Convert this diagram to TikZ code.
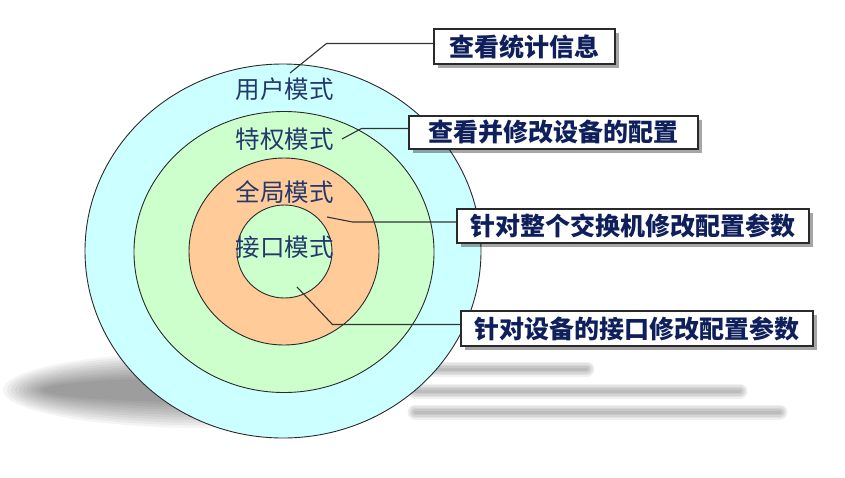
\documentclass[tikz,border=0pt]{standalone}
\usepackage{fontspec}
\usepackage{xcolor}
\usepackage{tikz}
\usetikzlibrary{shapes.geometric,shadows}
\newfontfamily\cjk{Noto Sans CJK SC}
\definecolor{ringcyan}{HTML}{CCFFFF}
\definecolor{ringgreen}{HTML}{CCFFCC}
\definecolor{ringorange}{HTML}{FFCC99}
\definecolor{labelnavy}{HTML}{24386E}
\definecolor{boxnavy}{HTML}{0E1F5B}
\definecolor{edge}{HTML}{2A2A2A}
\definecolor{leadgray}{HTML}{333333}
\tikzset{
  ring/.style={ellipse, draw=edge, line width=0.9pt, inner sep=0pt},
  mode/.style={font=\cjk\fontsize{24.5}{28}\selectfont, text=labelnavy, inner sep=1pt},
  infobox/.style={
    draw=edge, line width=1.1pt, fill=white, inner sep=0pt,
    font=\cjk\bfseries\fontsize{25}{28}\selectfont, text=boxnavy,
    drop shadow={shadow xshift=3.5pt, shadow yshift=-3.5pt, fill=black, opacity=0.35}
  },
  leader/.style={draw=leadgray, line width=1.1pt},
  streak/.style={draw=black, line cap=round, opacity=0.06}
}

\begin{document}
\begin{tikzpicture}[x=1pt, y=-1pt]
  \useasboundingbox (0,0) rectangle (845,477);

  % Floor shadow under the rings
  \foreach \i in {0,...,10}
    \fill[black, opacity=0.045] (205,390) ellipse ({202-\i*4} and {38-\i*2.6});
  \foreach \w in {15,12,9,6,3}{
    \draw[streak, line width=\w] (415,369) -- (587,369);
    \draw[streak, line width=\w] (415,391) -- (740,391);
    \draw[streak, line width=\w] (415,412) -- (780,412);
  }

  % Rings, outside in
  \node[ring, fill=ringcyan, minimum width=396, minimum height=374] (user) at (283,251) {};
  \node[ring, fill=ringgreen, minimum width=300, minimum height=281] (priv) at (284,252) {};
  \node[ring, fill=ringorange, minimum width=190, minimum height=187] (global) at (284,251.5) {};
  \node[ring, fill=ringgreen, minimum width=95, minimum height=93] (iface) at (284.5,251.5) {};

  % Mode names
  \node[mode] (userlbl) at (284.5,89) {用户模式};
  \node[mode] (privlbl) at (284.5,139) {特权模式};
  \node[mode] (globallbl) at (284.5,192) {全局模式};
  \node[mode] (ifacelbl) at (284.5,247.5) {接口模式};

  % Callout boxes
  \node[infobox, minimum width=181, minimum height=35] (b1) at (524.5,46.5) {查看统计信息};
  \node[infobox, minimum width=289, minimum height=33] (b2) at (553.5,132.5) {查看并修改设备的配置};
  \node[infobox, minimum width=352, minimum height=34] (b3) at (633,226) {针对整个交换机修改配置参数};
  \node[infobox, minimum width=352, minimum height=35] (b4) at (637,328.5) {针对设备的接口修改配置参数};

  % Leader tips inside the rings
  \coordinate (t1) at (290,73);
  \coordinate (t2) at (342,139);
  \coordinate (t3) at (327,217);
  \coordinate (t4) at (297,287);

  % Leaders
  \draw[leader] ([yshift=3pt]b1.west) -- ++(-107,0) -- (t1);
  \draw[leader] ([yshift=4pt]b2.west) -- ++(-47,0) -- (t2);
  \draw[leader] ([yshift=4pt]b3.west) -- ++(-104,0) -- (t3);
  \draw[leader] ([yshift=4pt]b4.west) -- ++(-128,0) -- (t4);
\end{tikzpicture}
\end{document}
